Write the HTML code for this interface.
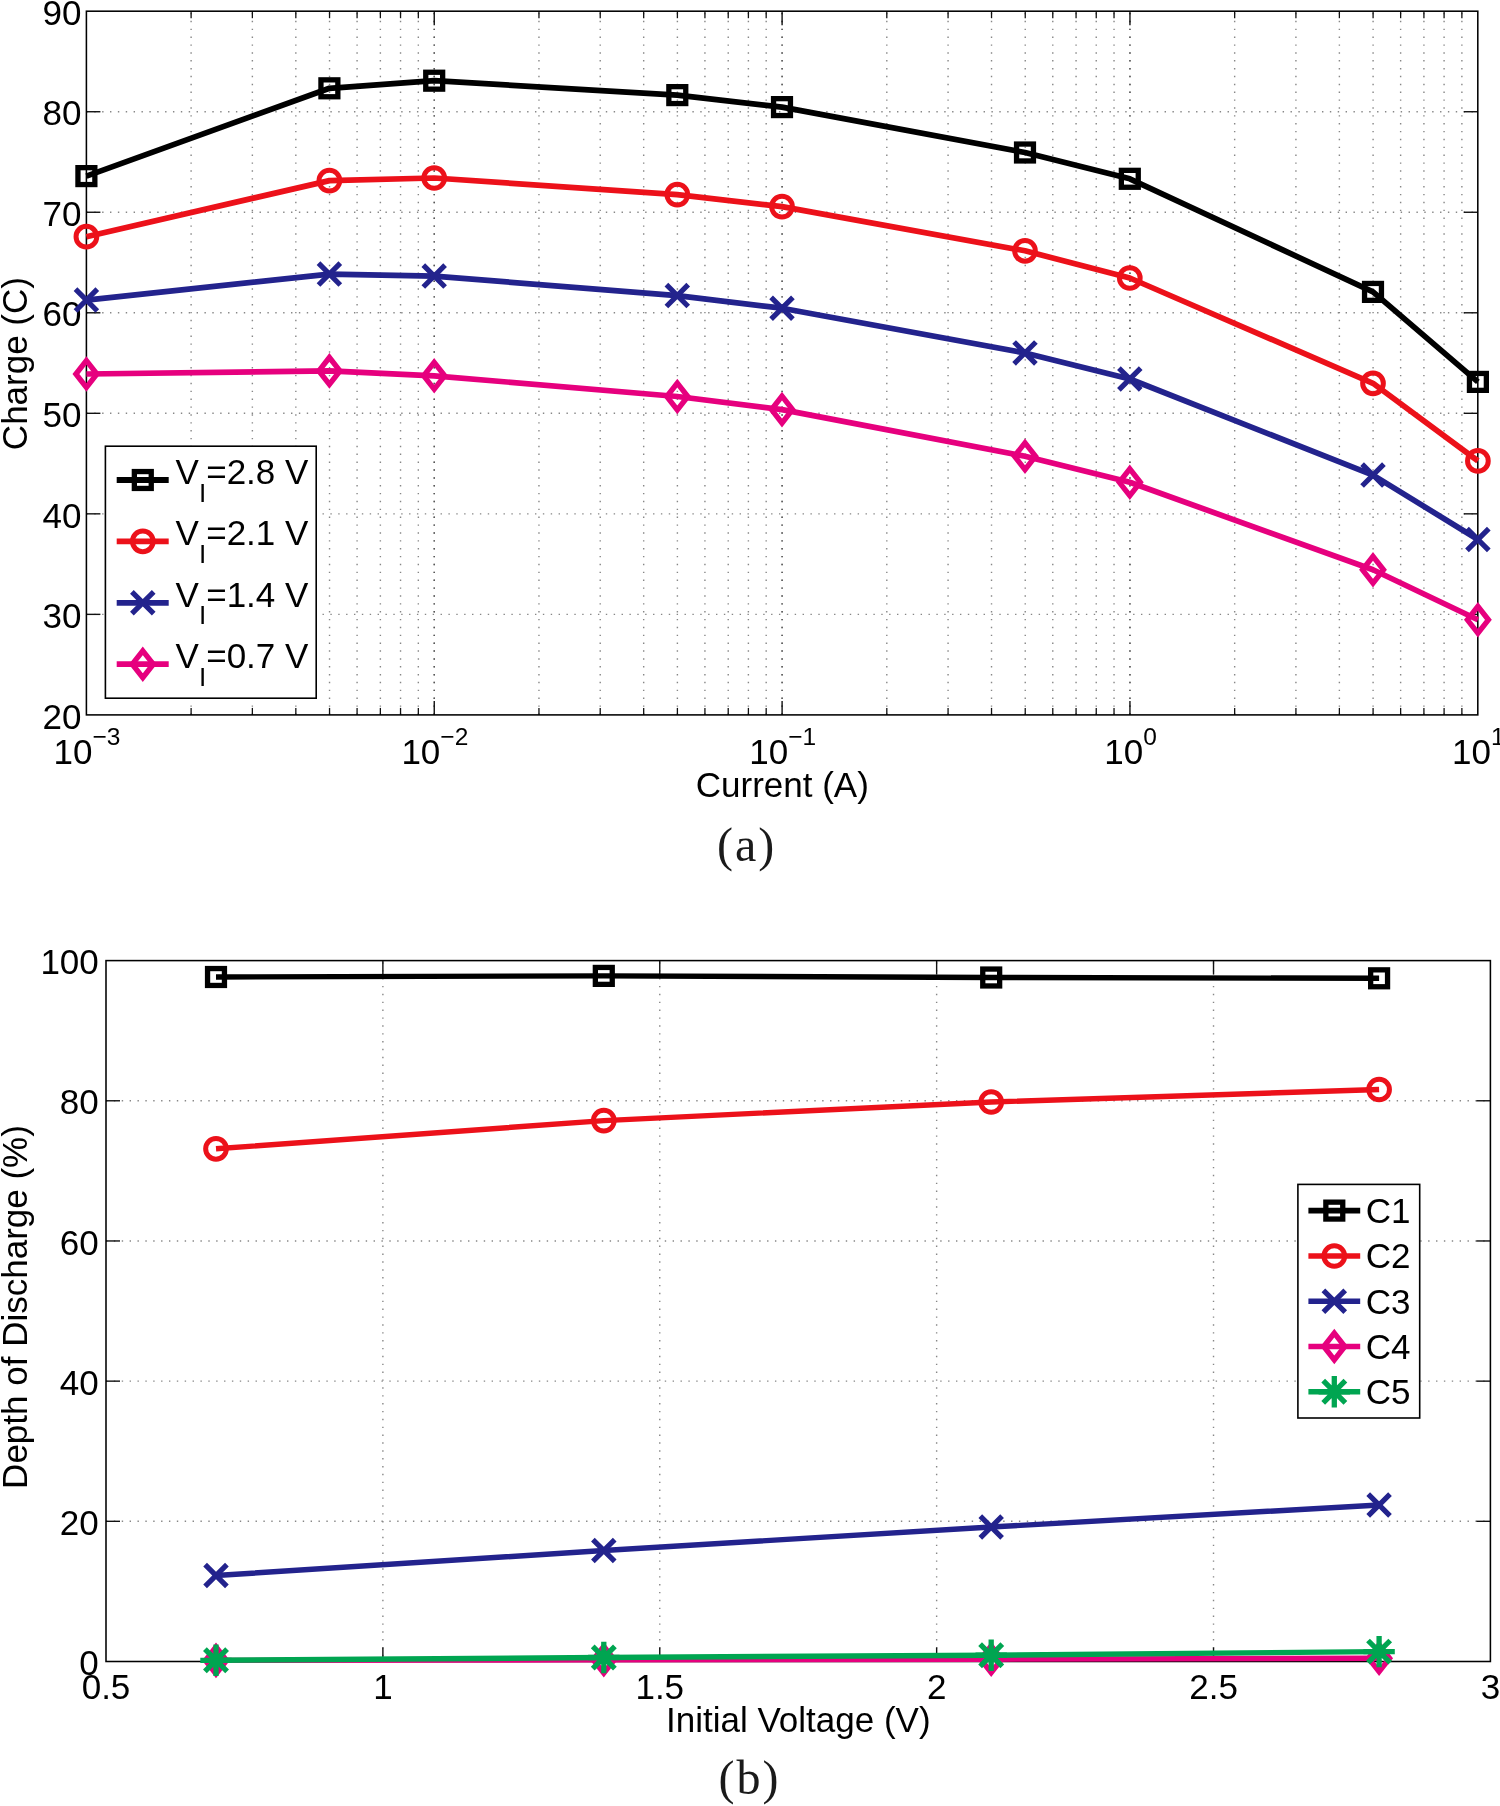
<!DOCTYPE html>
<html lang="en">
<head>
<meta charset="utf-8">
<title>Charge vs current and depth of discharge vs initial voltage</title>
<style>
html,body{margin:0;padding:0;background:#ffffff;}
body{width:1500px;height:1806px;overflow:hidden;font-family:"Liberation Sans",sans-serif;}
#fig{width:1500px;height:1806px;will-change:transform;filter:blur(0.55px);}
svg{display:block;}
</style>
</head>
<body>
<div id="fig">
<svg width="1500" height="1806" viewBox="0 0 1500 1806">
<line x1="191.11" y1="11.2" x2="191.11" y2="714.9" stroke="#878787" stroke-width="1.4" stroke-dasharray="1.4 6.47" stroke-dashoffset="-1.7"/>
<line x1="252.37" y1="11.2" x2="252.37" y2="714.9" stroke="#878787" stroke-width="1.4" stroke-dasharray="1.4 6.47" stroke-dashoffset="-1.7"/>
<line x1="295.83" y1="11.2" x2="295.83" y2="714.9" stroke="#878787" stroke-width="1.4" stroke-dasharray="1.4 6.47" stroke-dashoffset="-1.7"/>
<line x1="329.54" y1="11.2" x2="329.54" y2="714.9" stroke="#878787" stroke-width="1.4" stroke-dasharray="1.4 6.47" stroke-dashoffset="-1.7"/>
<line x1="357.08" y1="11.2" x2="357.08" y2="714.9" stroke="#878787" stroke-width="1.4" stroke-dasharray="1.4 6.47" stroke-dashoffset="-1.7"/>
<line x1="380.37" y1="11.2" x2="380.37" y2="714.9" stroke="#878787" stroke-width="1.4" stroke-dasharray="1.4 6.47" stroke-dashoffset="-1.7"/>
<line x1="400.54" y1="11.2" x2="400.54" y2="714.9" stroke="#878787" stroke-width="1.4" stroke-dasharray="1.4 6.47" stroke-dashoffset="-1.7"/>
<line x1="418.33" y1="11.2" x2="418.33" y2="714.9" stroke="#878787" stroke-width="1.4" stroke-dasharray="1.4 6.47" stroke-dashoffset="-1.7"/>
<line x1="538.96" y1="11.2" x2="538.96" y2="714.9" stroke="#878787" stroke-width="1.4" stroke-dasharray="1.4 6.47" stroke-dashoffset="-1.7"/>
<line x1="600.22" y1="11.2" x2="600.22" y2="714.9" stroke="#878787" stroke-width="1.4" stroke-dasharray="1.4 6.47" stroke-dashoffset="-1.7"/>
<line x1="643.68" y1="11.2" x2="643.68" y2="714.9" stroke="#878787" stroke-width="1.4" stroke-dasharray="1.4 6.47" stroke-dashoffset="-1.7"/>
<line x1="677.39" y1="11.2" x2="677.39" y2="714.9" stroke="#878787" stroke-width="1.4" stroke-dasharray="1.4 6.47" stroke-dashoffset="-1.7"/>
<line x1="704.93" y1="11.2" x2="704.93" y2="714.9" stroke="#878787" stroke-width="1.4" stroke-dasharray="1.4 6.47" stroke-dashoffset="-1.7"/>
<line x1="728.22" y1="11.2" x2="728.22" y2="714.9" stroke="#878787" stroke-width="1.4" stroke-dasharray="1.4 6.47" stroke-dashoffset="-1.7"/>
<line x1="748.39" y1="11.2" x2="748.39" y2="714.9" stroke="#878787" stroke-width="1.4" stroke-dasharray="1.4 6.47" stroke-dashoffset="-1.7"/>
<line x1="766.18" y1="11.2" x2="766.18" y2="714.9" stroke="#878787" stroke-width="1.4" stroke-dasharray="1.4 6.47" stroke-dashoffset="-1.7"/>
<line x1="886.81" y1="11.2" x2="886.81" y2="714.9" stroke="#878787" stroke-width="1.4" stroke-dasharray="1.4 6.47" stroke-dashoffset="-1.7"/>
<line x1="948.07" y1="11.2" x2="948.07" y2="714.9" stroke="#878787" stroke-width="1.4" stroke-dasharray="1.4 6.47" stroke-dashoffset="-1.7"/>
<line x1="991.53" y1="11.2" x2="991.53" y2="714.9" stroke="#878787" stroke-width="1.4" stroke-dasharray="1.4 6.47" stroke-dashoffset="-1.7"/>
<line x1="1025.24" y1="11.2" x2="1025.24" y2="714.9" stroke="#878787" stroke-width="1.4" stroke-dasharray="1.4 6.47" stroke-dashoffset="-1.7"/>
<line x1="1052.78" y1="11.2" x2="1052.78" y2="714.9" stroke="#878787" stroke-width="1.4" stroke-dasharray="1.4 6.47" stroke-dashoffset="-1.7"/>
<line x1="1076.07" y1="11.2" x2="1076.07" y2="714.9" stroke="#878787" stroke-width="1.4" stroke-dasharray="1.4 6.47" stroke-dashoffset="-1.7"/>
<line x1="1096.24" y1="11.2" x2="1096.24" y2="714.9" stroke="#878787" stroke-width="1.4" stroke-dasharray="1.4 6.47" stroke-dashoffset="-1.7"/>
<line x1="1114.03" y1="11.2" x2="1114.03" y2="714.9" stroke="#878787" stroke-width="1.4" stroke-dasharray="1.4 6.47" stroke-dashoffset="-1.7"/>
<line x1="1234.66" y1="11.2" x2="1234.66" y2="714.9" stroke="#878787" stroke-width="1.4" stroke-dasharray="1.4 6.47" stroke-dashoffset="-1.7"/>
<line x1="1295.92" y1="11.2" x2="1295.92" y2="714.9" stroke="#878787" stroke-width="1.4" stroke-dasharray="1.4 6.47" stroke-dashoffset="-1.7"/>
<line x1="1339.38" y1="11.2" x2="1339.38" y2="714.9" stroke="#878787" stroke-width="1.4" stroke-dasharray="1.4 6.47" stroke-dashoffset="-1.7"/>
<line x1="1373.09" y1="11.2" x2="1373.09" y2="714.9" stroke="#878787" stroke-width="1.4" stroke-dasharray="1.4 6.47" stroke-dashoffset="-1.7"/>
<line x1="1400.63" y1="11.2" x2="1400.63" y2="714.9" stroke="#878787" stroke-width="1.4" stroke-dasharray="1.4 6.47" stroke-dashoffset="-1.7"/>
<line x1="1423.92" y1="11.2" x2="1423.92" y2="714.9" stroke="#878787" stroke-width="1.4" stroke-dasharray="1.4 6.47" stroke-dashoffset="-1.7"/>
<line x1="1444.09" y1="11.2" x2="1444.09" y2="714.9" stroke="#878787" stroke-width="1.4" stroke-dasharray="1.4 6.47" stroke-dashoffset="-1.7"/>
<line x1="1461.88" y1="11.2" x2="1461.88" y2="714.9" stroke="#878787" stroke-width="1.4" stroke-dasharray="1.4 6.47" stroke-dashoffset="-1.7"/>
<line x1="434.25" y1="11.2" x2="434.25" y2="714.9" stroke="#878787" stroke-width="1.4" stroke-dasharray="1.4 6.47" stroke-dashoffset="-1.7"/>
<line x1="434.25" y1="11.2" x2="434.25" y2="714.9" stroke="#555" stroke-width="1.4" stroke-dasharray="1.4 6.47" stroke-dashoffset="-1.7"/>
<line x1="782.1" y1="11.2" x2="782.1" y2="714.9" stroke="#878787" stroke-width="1.4" stroke-dasharray="1.4 6.47" stroke-dashoffset="-1.7"/>
<line x1="782.1" y1="11.2" x2="782.1" y2="714.9" stroke="#555" stroke-width="1.4" stroke-dasharray="1.4 6.47" stroke-dashoffset="-1.7"/>
<line x1="1129.95" y1="11.2" x2="1129.95" y2="714.9" stroke="#878787" stroke-width="1.4" stroke-dasharray="1.4 6.47" stroke-dashoffset="-1.7"/>
<line x1="1129.95" y1="11.2" x2="1129.95" y2="714.9" stroke="#555" stroke-width="1.4" stroke-dasharray="1.4 6.47" stroke-dashoffset="-1.7"/>
<line x1="86.4" y1="614.37" x2="1477.8" y2="614.37" stroke="#878787" stroke-width="1.4" stroke-dasharray="1.4 6.47"/>
<line x1="86.4" y1="513.84" x2="1477.8" y2="513.84" stroke="#878787" stroke-width="1.4" stroke-dasharray="1.4 6.47"/>
<line x1="86.4" y1="413.31" x2="1477.8" y2="413.31" stroke="#878787" stroke-width="1.4" stroke-dasharray="1.4 6.47"/>
<line x1="86.4" y1="312.79" x2="1477.8" y2="312.79" stroke="#878787" stroke-width="1.4" stroke-dasharray="1.4 6.47"/>
<line x1="86.4" y1="212.26" x2="1477.8" y2="212.26" stroke="#878787" stroke-width="1.4" stroke-dasharray="1.4 6.47"/>
<line x1="86.4" y1="111.73" x2="1477.8" y2="111.73" stroke="#878787" stroke-width="1.4" stroke-dasharray="1.4 6.47"/>
<line x1="191.11" y1="714.9" x2="191.11" y2="707.9" stroke="#111111" stroke-width="1.3"/>
<line x1="191.11" y1="11.2" x2="191.11" y2="18.2" stroke="#111111" stroke-width="1.3"/>
<line x1="252.37" y1="714.9" x2="252.37" y2="707.9" stroke="#111111" stroke-width="1.3"/>
<line x1="252.37" y1="11.2" x2="252.37" y2="18.2" stroke="#111111" stroke-width="1.3"/>
<line x1="295.83" y1="714.9" x2="295.83" y2="707.9" stroke="#111111" stroke-width="1.3"/>
<line x1="295.83" y1="11.2" x2="295.83" y2="18.2" stroke="#111111" stroke-width="1.3"/>
<line x1="329.54" y1="714.9" x2="329.54" y2="707.9" stroke="#111111" stroke-width="1.3"/>
<line x1="329.54" y1="11.2" x2="329.54" y2="18.2" stroke="#111111" stroke-width="1.3"/>
<line x1="357.08" y1="714.9" x2="357.08" y2="707.9" stroke="#111111" stroke-width="1.3"/>
<line x1="357.08" y1="11.2" x2="357.08" y2="18.2" stroke="#111111" stroke-width="1.3"/>
<line x1="380.37" y1="714.9" x2="380.37" y2="707.9" stroke="#111111" stroke-width="1.3"/>
<line x1="380.37" y1="11.2" x2="380.37" y2="18.2" stroke="#111111" stroke-width="1.3"/>
<line x1="400.54" y1="714.9" x2="400.54" y2="707.9" stroke="#111111" stroke-width="1.3"/>
<line x1="400.54" y1="11.2" x2="400.54" y2="18.2" stroke="#111111" stroke-width="1.3"/>
<line x1="418.33" y1="714.9" x2="418.33" y2="707.9" stroke="#111111" stroke-width="1.3"/>
<line x1="418.33" y1="11.2" x2="418.33" y2="18.2" stroke="#111111" stroke-width="1.3"/>
<line x1="538.96" y1="714.9" x2="538.96" y2="707.9" stroke="#111111" stroke-width="1.3"/>
<line x1="538.96" y1="11.2" x2="538.96" y2="18.2" stroke="#111111" stroke-width="1.3"/>
<line x1="600.22" y1="714.9" x2="600.22" y2="707.9" stroke="#111111" stroke-width="1.3"/>
<line x1="600.22" y1="11.2" x2="600.22" y2="18.2" stroke="#111111" stroke-width="1.3"/>
<line x1="643.68" y1="714.9" x2="643.68" y2="707.9" stroke="#111111" stroke-width="1.3"/>
<line x1="643.68" y1="11.2" x2="643.68" y2="18.2" stroke="#111111" stroke-width="1.3"/>
<line x1="677.39" y1="714.9" x2="677.39" y2="707.9" stroke="#111111" stroke-width="1.3"/>
<line x1="677.39" y1="11.2" x2="677.39" y2="18.2" stroke="#111111" stroke-width="1.3"/>
<line x1="704.93" y1="714.9" x2="704.93" y2="707.9" stroke="#111111" stroke-width="1.3"/>
<line x1="704.93" y1="11.2" x2="704.93" y2="18.2" stroke="#111111" stroke-width="1.3"/>
<line x1="728.22" y1="714.9" x2="728.22" y2="707.9" stroke="#111111" stroke-width="1.3"/>
<line x1="728.22" y1="11.2" x2="728.22" y2="18.2" stroke="#111111" stroke-width="1.3"/>
<line x1="748.39" y1="714.9" x2="748.39" y2="707.9" stroke="#111111" stroke-width="1.3"/>
<line x1="748.39" y1="11.2" x2="748.39" y2="18.2" stroke="#111111" stroke-width="1.3"/>
<line x1="766.18" y1="714.9" x2="766.18" y2="707.9" stroke="#111111" stroke-width="1.3"/>
<line x1="766.18" y1="11.2" x2="766.18" y2="18.2" stroke="#111111" stroke-width="1.3"/>
<line x1="886.81" y1="714.9" x2="886.81" y2="707.9" stroke="#111111" stroke-width="1.3"/>
<line x1="886.81" y1="11.2" x2="886.81" y2="18.2" stroke="#111111" stroke-width="1.3"/>
<line x1="948.07" y1="714.9" x2="948.07" y2="707.9" stroke="#111111" stroke-width="1.3"/>
<line x1="948.07" y1="11.2" x2="948.07" y2="18.2" stroke="#111111" stroke-width="1.3"/>
<line x1="991.53" y1="714.9" x2="991.53" y2="707.9" stroke="#111111" stroke-width="1.3"/>
<line x1="991.53" y1="11.2" x2="991.53" y2="18.2" stroke="#111111" stroke-width="1.3"/>
<line x1="1025.24" y1="714.9" x2="1025.24" y2="707.9" stroke="#111111" stroke-width="1.3"/>
<line x1="1025.24" y1="11.2" x2="1025.24" y2="18.2" stroke="#111111" stroke-width="1.3"/>
<line x1="1052.78" y1="714.9" x2="1052.78" y2="707.9" stroke="#111111" stroke-width="1.3"/>
<line x1="1052.78" y1="11.2" x2="1052.78" y2="18.2" stroke="#111111" stroke-width="1.3"/>
<line x1="1076.07" y1="714.9" x2="1076.07" y2="707.9" stroke="#111111" stroke-width="1.3"/>
<line x1="1076.07" y1="11.2" x2="1076.07" y2="18.2" stroke="#111111" stroke-width="1.3"/>
<line x1="1096.24" y1="714.9" x2="1096.24" y2="707.9" stroke="#111111" stroke-width="1.3"/>
<line x1="1096.24" y1="11.2" x2="1096.24" y2="18.2" stroke="#111111" stroke-width="1.3"/>
<line x1="1114.03" y1="714.9" x2="1114.03" y2="707.9" stroke="#111111" stroke-width="1.3"/>
<line x1="1114.03" y1="11.2" x2="1114.03" y2="18.2" stroke="#111111" stroke-width="1.3"/>
<line x1="1234.66" y1="714.9" x2="1234.66" y2="707.9" stroke="#111111" stroke-width="1.3"/>
<line x1="1234.66" y1="11.2" x2="1234.66" y2="18.2" stroke="#111111" stroke-width="1.3"/>
<line x1="1295.92" y1="714.9" x2="1295.92" y2="707.9" stroke="#111111" stroke-width="1.3"/>
<line x1="1295.92" y1="11.2" x2="1295.92" y2="18.2" stroke="#111111" stroke-width="1.3"/>
<line x1="1339.38" y1="714.9" x2="1339.38" y2="707.9" stroke="#111111" stroke-width="1.3"/>
<line x1="1339.38" y1="11.2" x2="1339.38" y2="18.2" stroke="#111111" stroke-width="1.3"/>
<line x1="1373.09" y1="714.9" x2="1373.09" y2="707.9" stroke="#111111" stroke-width="1.3"/>
<line x1="1373.09" y1="11.2" x2="1373.09" y2="18.2" stroke="#111111" stroke-width="1.3"/>
<line x1="1400.63" y1="714.9" x2="1400.63" y2="707.9" stroke="#111111" stroke-width="1.3"/>
<line x1="1400.63" y1="11.2" x2="1400.63" y2="18.2" stroke="#111111" stroke-width="1.3"/>
<line x1="1423.92" y1="714.9" x2="1423.92" y2="707.9" stroke="#111111" stroke-width="1.3"/>
<line x1="1423.92" y1="11.2" x2="1423.92" y2="18.2" stroke="#111111" stroke-width="1.3"/>
<line x1="1444.09" y1="714.9" x2="1444.09" y2="707.9" stroke="#111111" stroke-width="1.3"/>
<line x1="1444.09" y1="11.2" x2="1444.09" y2="18.2" stroke="#111111" stroke-width="1.3"/>
<line x1="1461.88" y1="714.9" x2="1461.88" y2="707.9" stroke="#111111" stroke-width="1.3"/>
<line x1="1461.88" y1="11.2" x2="1461.88" y2="18.2" stroke="#111111" stroke-width="1.3"/>
<line x1="434.25" y1="714.9" x2="434.25" y2="700.9" stroke="#111111" stroke-width="1.4"/>
<line x1="434.25" y1="11.2" x2="434.25" y2="25.2" stroke="#111111" stroke-width="1.4"/>
<line x1="782.1" y1="714.9" x2="782.1" y2="700.9" stroke="#111111" stroke-width="1.4"/>
<line x1="782.1" y1="11.2" x2="782.1" y2="25.2" stroke="#111111" stroke-width="1.4"/>
<line x1="1129.95" y1="714.9" x2="1129.95" y2="700.9" stroke="#111111" stroke-width="1.4"/>
<line x1="1129.95" y1="11.2" x2="1129.95" y2="25.2" stroke="#111111" stroke-width="1.4"/>
<line x1="86.4" y1="614.37" x2="100.4" y2="614.37" stroke="#111111" stroke-width="1.4"/>
<line x1="1477.8" y1="614.37" x2="1463.8" y2="614.37" stroke="#111111" stroke-width="1.4"/>
<line x1="86.4" y1="513.84" x2="100.4" y2="513.84" stroke="#111111" stroke-width="1.4"/>
<line x1="1477.8" y1="513.84" x2="1463.8" y2="513.84" stroke="#111111" stroke-width="1.4"/>
<line x1="86.4" y1="413.31" x2="100.4" y2="413.31" stroke="#111111" stroke-width="1.4"/>
<line x1="1477.8" y1="413.31" x2="1463.8" y2="413.31" stroke="#111111" stroke-width="1.4"/>
<line x1="86.4" y1="312.79" x2="100.4" y2="312.79" stroke="#111111" stroke-width="1.4"/>
<line x1="1477.8" y1="312.79" x2="1463.8" y2="312.79" stroke="#111111" stroke-width="1.4"/>
<line x1="86.4" y1="212.26" x2="100.4" y2="212.26" stroke="#111111" stroke-width="1.4"/>
<line x1="1477.8" y1="212.26" x2="1463.8" y2="212.26" stroke="#111111" stroke-width="1.4"/>
<line x1="86.4" y1="111.73" x2="100.4" y2="111.73" stroke="#111111" stroke-width="1.4"/>
<line x1="1477.8" y1="111.73" x2="1463.8" y2="111.73" stroke="#111111" stroke-width="1.4"/>
<rect x="86.4" y="11.2" width="1391.4" height="703.7" fill="none" stroke="#000000" stroke-width="1.55"/>
<text x="81.5" y="728.6" font-size="35" text-anchor="end" font-family="Liberation Sans, sans-serif" fill="#000" >20</text>
<text x="81.5" y="628.07" font-size="35" text-anchor="end" font-family="Liberation Sans, sans-serif" fill="#000" >30</text>
<text x="81.5" y="527.54" font-size="35" text-anchor="end" font-family="Liberation Sans, sans-serif" fill="#000" >40</text>
<text x="81.5" y="427.01" font-size="35" text-anchor="end" font-family="Liberation Sans, sans-serif" fill="#000" >50</text>
<text x="81.5" y="326.49" font-size="35" text-anchor="end" font-family="Liberation Sans, sans-serif" fill="#000" >60</text>
<text x="81.5" y="225.96" font-size="35" text-anchor="end" font-family="Liberation Sans, sans-serif" fill="#000" >70</text>
<text x="81.5" y="125.43" font-size="35" text-anchor="end" font-family="Liberation Sans, sans-serif" fill="#000" >80</text>
<text x="81.5" y="24.9" font-size="35" text-anchor="end" font-family="Liberation Sans, sans-serif" fill="#000" >90</text>
<text x="87" y="763.8" font-size="35" text-anchor="middle" font-family="Liberation Sans, sans-serif" fill="#000">10<tspan font-size="24.5" dy="-18.8">−3</tspan></text>
<text x="434.85" y="763.8" font-size="35" text-anchor="middle" font-family="Liberation Sans, sans-serif" fill="#000">10<tspan font-size="24.5" dy="-18.8">−2</tspan></text>
<text x="782.7" y="763.8" font-size="35" text-anchor="middle" font-family="Liberation Sans, sans-serif" fill="#000">10<tspan font-size="24.5" dy="-18.8">−1</tspan></text>
<text x="1130.55" y="763.8" font-size="35" text-anchor="middle" font-family="Liberation Sans, sans-serif" fill="#000">10<tspan font-size="24.5" dy="-18.8">0</tspan></text>
<text x="1478.4" y="763.8" font-size="35" text-anchor="middle" font-family="Liberation Sans, sans-serif" fill="#000">10<tspan font-size="24.5" dy="-18.8">1</tspan></text>
<text x="782.3" y="797.3" font-size="35" text-anchor="middle" font-family="Liberation Sans, sans-serif" fill="#000" >Current (A)</text>
<text transform="translate(27 363.6) rotate(-90)" font-size="35" text-anchor="middle" font-family="Liberation Sans, sans-serif" fill="#000">Charge (C)</text>
<polyline points="86.4,176.1 329.4,88.3 434.2,80.7 677.3,95.1 782,107.1 1025,152.5 1129.8,178.8 1373,291.9 1477.9,381.9" fill="none" stroke="#000000" stroke-width="5.7" stroke-linejoin="round"/>
<rect x="77.95" y="167.65" width="16.9" height="16.9" fill="none" stroke="#000000" stroke-width="5.3"/>
<rect x="320.95" y="79.85" width="16.9" height="16.9" fill="none" stroke="#000000" stroke-width="5.3"/>
<rect x="425.75" y="72.25" width="16.9" height="16.9" fill="none" stroke="#000000" stroke-width="5.3"/>
<rect x="668.85" y="86.65" width="16.9" height="16.9" fill="none" stroke="#000000" stroke-width="5.3"/>
<rect x="773.55" y="98.65" width="16.9" height="16.9" fill="none" stroke="#000000" stroke-width="5.3"/>
<rect x="1016.55" y="144.05" width="16.9" height="16.9" fill="none" stroke="#000000" stroke-width="5.3"/>
<rect x="1121.35" y="170.35" width="16.9" height="16.9" fill="none" stroke="#000000" stroke-width="5.3"/>
<rect x="1364.55" y="283.45" width="16.9" height="16.9" fill="none" stroke="#000000" stroke-width="5.3"/>
<rect x="1469.45" y="373.45" width="16.9" height="16.9" fill="none" stroke="#000000" stroke-width="5.3"/>
<polyline points="86.4,236.7 329.4,180.6 434.2,178 677.3,194.6 782,206.6 1025,250.8 1129.8,278 1373,383.3 1477.9,460.9" fill="none" stroke="#EC111A" stroke-width="5.7" stroke-linejoin="round"/>
<circle cx="86.4" cy="236.7" r="10.35" fill="none" stroke="#EC111A" stroke-width="5.0"/>
<circle cx="329.4" cy="180.6" r="10.35" fill="none" stroke="#EC111A" stroke-width="5.0"/>
<circle cx="434.2" cy="178" r="10.35" fill="none" stroke="#EC111A" stroke-width="5.0"/>
<circle cx="677.3" cy="194.6" r="10.35" fill="none" stroke="#EC111A" stroke-width="5.0"/>
<circle cx="782" cy="206.6" r="10.35" fill="none" stroke="#EC111A" stroke-width="5.0"/>
<circle cx="1025" cy="250.8" r="10.35" fill="none" stroke="#EC111A" stroke-width="5.0"/>
<circle cx="1129.8" cy="278" r="10.35" fill="none" stroke="#EC111A" stroke-width="5.0"/>
<circle cx="1373" cy="383.3" r="10.35" fill="none" stroke="#EC111A" stroke-width="5.0"/>
<circle cx="1477.9" cy="460.9" r="10.35" fill="none" stroke="#EC111A" stroke-width="5.0"/>
<polyline points="86.4,300.1 329.4,274.1 434.2,276.1 677.3,295.6 782,308.2 1025,352.9 1129.8,379 1373,475.1 1477.9,539.5" fill="none" stroke="#23238D" stroke-width="5.7" stroke-linejoin="round"/>
<path d="M75.5 289.2L97.3 311M75.5 311L97.3 289.2" fill="none" stroke="#23238D" stroke-width="5.2"/>
<path d="M318.5 263.2L340.3 285M318.5 285L340.3 263.2" fill="none" stroke="#23238D" stroke-width="5.2"/>
<path d="M423.3 265.2L445.1 287M423.3 287L445.1 265.2" fill="none" stroke="#23238D" stroke-width="5.2"/>
<path d="M666.4 284.7L688.2 306.5M666.4 306.5L688.2 284.7" fill="none" stroke="#23238D" stroke-width="5.2"/>
<path d="M771.1 297.3L792.9 319.1M771.1 319.1L792.9 297.3" fill="none" stroke="#23238D" stroke-width="5.2"/>
<path d="M1014.1 342L1035.9 363.8M1014.1 363.8L1035.9 342" fill="none" stroke="#23238D" stroke-width="5.2"/>
<path d="M1118.9 368.1L1140.7 389.9M1118.9 389.9L1140.7 368.1" fill="none" stroke="#23238D" stroke-width="5.2"/>
<path d="M1362.1 464.2L1383.9 486M1362.1 486L1383.9 464.2" fill="none" stroke="#23238D" stroke-width="5.2"/>
<path d="M1467 528.6L1488.8 550.4M1467 550.4L1488.8 528.6" fill="none" stroke="#23238D" stroke-width="5.2"/>
<polyline points="86.4,374 329.4,370.9 434.2,375.8 677.3,396.5 782,409.6 1025,456.2 1129.8,482.3 1373,569.8 1477.9,619.8" fill="none" stroke="#E6007E" stroke-width="5.7" stroke-linejoin="round"/>
<path d="M86.4 360.6L96.9 374L86.4 387.4L75.9 374Z" fill="none" stroke="#E6007E" stroke-width="5.4" stroke-linejoin="miter" stroke-miterlimit="10"/>
<path d="M329.4 357.5L339.9 370.9L329.4 384.3L318.9 370.9Z" fill="none" stroke="#E6007E" stroke-width="5.4" stroke-linejoin="miter" stroke-miterlimit="10"/>
<path d="M434.2 362.4L444.7 375.8L434.2 389.2L423.7 375.8Z" fill="none" stroke="#E6007E" stroke-width="5.4" stroke-linejoin="miter" stroke-miterlimit="10"/>
<path d="M677.3 383.1L687.8 396.5L677.3 409.9L666.8 396.5Z" fill="none" stroke="#E6007E" stroke-width="5.4" stroke-linejoin="miter" stroke-miterlimit="10"/>
<path d="M782 396.2L792.5 409.6L782 423L771.5 409.6Z" fill="none" stroke="#E6007E" stroke-width="5.4" stroke-linejoin="miter" stroke-miterlimit="10"/>
<path d="M1025 442.8L1035.5 456.2L1025 469.6L1014.5 456.2Z" fill="none" stroke="#E6007E" stroke-width="5.4" stroke-linejoin="miter" stroke-miterlimit="10"/>
<path d="M1129.8 468.9L1140.3 482.3L1129.8 495.7L1119.3 482.3Z" fill="none" stroke="#E6007E" stroke-width="5.4" stroke-linejoin="miter" stroke-miterlimit="10"/>
<path d="M1373 556.4L1383.5 569.8L1373 583.2L1362.5 569.8Z" fill="none" stroke="#E6007E" stroke-width="5.4" stroke-linejoin="miter" stroke-miterlimit="10"/>
<path d="M1477.9 606.4L1488.4 619.8L1477.9 633.2L1467.4 619.8Z" fill="none" stroke="#E6007E" stroke-width="5.4" stroke-linejoin="miter" stroke-miterlimit="10"/>
<rect x="105.4" y="446.2" width="210.8" height="252" fill="#ffffff" stroke="#000000" stroke-width="1.6"/>
<line x1="116.7" y1="480" x2="168.7" y2="480" stroke="#000000" stroke-width="5.8"/>
<rect x="134.35" y="471.55" width="16.9" height="16.9" fill="none" stroke="#000000" stroke-width="5.3"/>
<text x="175.6" y="484.1" font-size="35" font-family="Liberation Sans, sans-serif" fill="#000">V<tspan font-size="26" dy="17.5">I</tspan><tspan dy="-17.5">=2.8 V</tspan></text>
<line x1="116.7" y1="541.3" x2="168.7" y2="541.3" stroke="#EC111A" stroke-width="5.8"/>
<circle cx="142.8" cy="541.3" r="10.35" fill="none" stroke="#EC111A" stroke-width="5.0"/>
<text x="175.6" y="545.4" font-size="35" font-family="Liberation Sans, sans-serif" fill="#000">V<tspan font-size="26" dy="17.5">I</tspan><tspan dy="-17.5">=2.1 V</tspan></text>
<line x1="116.7" y1="602.8" x2="168.7" y2="602.8" stroke="#23238D" stroke-width="5.8"/>
<path d="M131.9 591.9L153.7 613.7M131.9 613.7L153.7 591.9" fill="none" stroke="#23238D" stroke-width="5.2"/>
<text x="175.6" y="606.9" font-size="35" font-family="Liberation Sans, sans-serif" fill="#000">V<tspan font-size="26" dy="17.5">I</tspan><tspan dy="-17.5">=1.4 V</tspan></text>
<line x1="116.7" y1="664.2" x2="168.7" y2="664.2" stroke="#E6007E" stroke-width="5.8"/>
<path d="M142.8 650.8L153.3 664.2L142.8 677.6L132.3 664.2Z" fill="none" stroke="#E6007E" stroke-width="5.4" stroke-linejoin="miter" stroke-miterlimit="10"/>
<text x="175.6" y="668.3" font-size="35" font-family="Liberation Sans, sans-serif" fill="#000">V<tspan font-size="26" dy="17.5">I</tspan><tspan dy="-17.5">=0.7 V</tspan></text>
<text x="746.7" y="861" font-size="48" text-anchor="middle" font-family="Liberation Serif, serif" fill="#1a1a1a" letter-spacing="2">(a)</text>
<line x1="382.88" y1="960.6" x2="382.88" y2="1661.5" stroke="#878787" stroke-width="1.4" stroke-dasharray="1.4 6.47" stroke-dashoffset="-1.7"/>
<line x1="659.76" y1="960.6" x2="659.76" y2="1661.5" stroke="#878787" stroke-width="1.4" stroke-dasharray="1.4 6.47" stroke-dashoffset="-1.7"/>
<line x1="936.64" y1="960.6" x2="936.64" y2="1661.5" stroke="#878787" stroke-width="1.4" stroke-dasharray="1.4 6.47" stroke-dashoffset="-1.7"/>
<line x1="1213.52" y1="960.6" x2="1213.52" y2="1661.5" stroke="#878787" stroke-width="1.4" stroke-dasharray="1.4 6.47" stroke-dashoffset="-1.7"/>
<line x1="106" y1="1521.32" x2="1490.4" y2="1521.32" stroke="#878787" stroke-width="1.4" stroke-dasharray="1.4 6.47"/>
<line x1="106" y1="1381.14" x2="1490.4" y2="1381.14" stroke="#878787" stroke-width="1.4" stroke-dasharray="1.4 6.47"/>
<line x1="106" y1="1240.96" x2="1490.4" y2="1240.96" stroke="#878787" stroke-width="1.4" stroke-dasharray="1.4 6.47"/>
<line x1="106" y1="1100.78" x2="1490.4" y2="1100.78" stroke="#878787" stroke-width="1.4" stroke-dasharray="1.4 6.47"/>
<line x1="382.88" y1="1661.5" x2="382.88" y2="1647.5" stroke="#111111" stroke-width="1.4"/>
<line x1="382.88" y1="960.6" x2="382.88" y2="974.6" stroke="#111111" stroke-width="1.4"/>
<line x1="659.76" y1="1661.5" x2="659.76" y2="1647.5" stroke="#111111" stroke-width="1.4"/>
<line x1="659.76" y1="960.6" x2="659.76" y2="974.6" stroke="#111111" stroke-width="1.4"/>
<line x1="936.64" y1="1661.5" x2="936.64" y2="1647.5" stroke="#111111" stroke-width="1.4"/>
<line x1="936.64" y1="960.6" x2="936.64" y2="974.6" stroke="#111111" stroke-width="1.4"/>
<line x1="1213.52" y1="1661.5" x2="1213.52" y2="1647.5" stroke="#111111" stroke-width="1.4"/>
<line x1="1213.52" y1="960.6" x2="1213.52" y2="974.6" stroke="#111111" stroke-width="1.4"/>
<line x1="106" y1="1521.32" x2="120" y2="1521.32" stroke="#111111" stroke-width="1.4"/>
<line x1="1490.4" y1="1521.32" x2="1476.4" y2="1521.32" stroke="#111111" stroke-width="1.4"/>
<line x1="106" y1="1381.14" x2="120" y2="1381.14" stroke="#111111" stroke-width="1.4"/>
<line x1="1490.4" y1="1381.14" x2="1476.4" y2="1381.14" stroke="#111111" stroke-width="1.4"/>
<line x1="106" y1="1240.96" x2="120" y2="1240.96" stroke="#111111" stroke-width="1.4"/>
<line x1="1490.4" y1="1240.96" x2="1476.4" y2="1240.96" stroke="#111111" stroke-width="1.4"/>
<line x1="106" y1="1100.78" x2="120" y2="1100.78" stroke="#111111" stroke-width="1.4"/>
<line x1="1490.4" y1="1100.78" x2="1476.4" y2="1100.78" stroke="#111111" stroke-width="1.4"/>
<rect x="106" y="960.6" width="1384.4" height="700.9" fill="none" stroke="#000000" stroke-width="1.55"/>
<text x="98.8" y="1675.2" font-size="35" text-anchor="end" font-family="Liberation Sans, sans-serif" fill="#000" >0</text>
<text x="98.8" y="1535.02" font-size="35" text-anchor="end" font-family="Liberation Sans, sans-serif" fill="#000" >20</text>
<text x="98.8" y="1394.84" font-size="35" text-anchor="end" font-family="Liberation Sans, sans-serif" fill="#000" >40</text>
<text x="98.8" y="1254.66" font-size="35" text-anchor="end" font-family="Liberation Sans, sans-serif" fill="#000" >60</text>
<text x="98.8" y="1114.48" font-size="35" text-anchor="end" font-family="Liberation Sans, sans-serif" fill="#000" >80</text>
<text x="98.8" y="974.3" font-size="35" text-anchor="end" font-family="Liberation Sans, sans-serif" fill="#000" >100</text>
<text x="106" y="1698.7" font-size="35" text-anchor="middle" font-family="Liberation Sans, sans-serif" fill="#000" >0.5</text>
<text x="382.88" y="1698.7" font-size="35" text-anchor="middle" font-family="Liberation Sans, sans-serif" fill="#000" >1</text>
<text x="659.76" y="1698.7" font-size="35" text-anchor="middle" font-family="Liberation Sans, sans-serif" fill="#000" >1.5</text>
<text x="936.64" y="1698.7" font-size="35" text-anchor="middle" font-family="Liberation Sans, sans-serif" fill="#000" >2</text>
<text x="1213.52" y="1698.7" font-size="35" text-anchor="middle" font-family="Liberation Sans, sans-serif" fill="#000" >2.5</text>
<text x="1490.4" y="1698.7" font-size="35" text-anchor="middle" font-family="Liberation Sans, sans-serif" fill="#000" >3</text>
<text x="798.3" y="1732" font-size="35" text-anchor="middle" font-family="Liberation Sans, sans-serif" fill="#000" >Initial Voltage (V)</text>
<text transform="translate(26.6 1307) rotate(-90)" font-size="35" text-anchor="middle" font-family="Liberation Sans, sans-serif" fill="#000">Depth of Discharge (%)</text>
<polyline points="216,977 603.8,975.9 991.2,977.5 1379.1,978.3" fill="none" stroke="#000000" stroke-width="5.4" stroke-linejoin="round"/>
<rect x="207.55" y="968.55" width="16.9" height="16.9" fill="none" stroke="#000000" stroke-width="5.3"/>
<rect x="595.35" y="967.45" width="16.9" height="16.9" fill="none" stroke="#000000" stroke-width="5.3"/>
<rect x="982.75" y="969.05" width="16.9" height="16.9" fill="none" stroke="#000000" stroke-width="5.3"/>
<rect x="1370.65" y="969.85" width="16.9" height="16.9" fill="none" stroke="#000000" stroke-width="5.3"/>
<polyline points="216,1148.8 603.8,1120.6 991.2,1102 1379.1,1089.5" fill="none" stroke="#EC111A" stroke-width="5.4" stroke-linejoin="round"/>
<circle cx="216" cy="1148.8" r="10.35" fill="none" stroke="#EC111A" stroke-width="5.0"/>
<circle cx="603.8" cy="1120.6" r="10.35" fill="none" stroke="#EC111A" stroke-width="5.0"/>
<circle cx="991.2" cy="1102" r="10.35" fill="none" stroke="#EC111A" stroke-width="5.0"/>
<circle cx="1379.1" cy="1089.5" r="10.35" fill="none" stroke="#EC111A" stroke-width="5.0"/>
<polyline points="216,1575.5 603.8,1550.5 991.2,1527 1379.1,1505" fill="none" stroke="#23238D" stroke-width="5.4" stroke-linejoin="round"/>
<path d="M205.1 1564.6L226.9 1586.4M205.1 1586.4L226.9 1564.6" fill="none" stroke="#23238D" stroke-width="5.2"/>
<path d="M592.9 1539.6L614.7 1561.4M592.9 1561.4L614.7 1539.6" fill="none" stroke="#23238D" stroke-width="5.2"/>
<path d="M980.3 1516.1L1002.1 1537.9M980.3 1537.9L1002.1 1516.1" fill="none" stroke="#23238D" stroke-width="5.2"/>
<path d="M1368.2 1494.1L1390 1515.9M1368.2 1515.9L1390 1494.1" fill="none" stroke="#23238D" stroke-width="5.2"/>
<polyline points="216,1660.4 603.8,1659.8 991.2,1659.2 1379.1,1658.3" fill="none" stroke="#E6007E" stroke-width="5.4" stroke-linejoin="round"/>
<path d="M216 1647L226.5 1660.4L216 1673.8L205.5 1660.4Z" fill="none" stroke="#E6007E" stroke-width="5.4" stroke-linejoin="miter" stroke-miterlimit="10"/>
<path d="M603.8 1646.4L614.3 1659.8L603.8 1673.2L593.3 1659.8Z" fill="none" stroke="#E6007E" stroke-width="5.4" stroke-linejoin="miter" stroke-miterlimit="10"/>
<path d="M991.2 1645.8L1001.7 1659.2L991.2 1672.6L980.7 1659.2Z" fill="none" stroke="#E6007E" stroke-width="5.4" stroke-linejoin="miter" stroke-miterlimit="10"/>
<path d="M1379.1 1644.9L1389.6 1658.3L1379.1 1671.7L1368.6 1658.3Z" fill="none" stroke="#E6007E" stroke-width="5.4" stroke-linejoin="miter" stroke-miterlimit="10"/>
<polyline points="216,1660.3 603.8,1657.5 991.2,1655.2 1379.1,1651.6" fill="none" stroke="#00A551" stroke-width="5.4" stroke-linejoin="round"/>
<path d="M200.3 1660.3L231.7 1660.3M216 1644.6L216 1676M204.9 1649.2L227.1 1671.4M204.9 1671.4L227.1 1649.2" fill="none" stroke="#00A551" stroke-width="5.3"/>
<path d="M588.1 1657.5L619.5 1657.5M603.8 1641.8L603.8 1673.2M592.7 1646.4L614.9 1668.6M592.7 1668.6L614.9 1646.4" fill="none" stroke="#00A551" stroke-width="5.3"/>
<path d="M975.5 1655.2L1006.9 1655.2M991.2 1639.5L991.2 1670.9M980.1 1644.1L1002.3 1666.3M980.1 1666.3L1002.3 1644.1" fill="none" stroke="#00A551" stroke-width="5.3"/>
<path d="M1363.4 1651.6L1394.8 1651.6M1379.1 1635.9L1379.1 1667.3M1368 1640.5L1390.2 1662.7M1368 1662.7L1390.2 1640.5" fill="none" stroke="#00A551" stroke-width="5.3"/>
<rect x="1297.9" y="1184.4" width="121.8" height="233.6" fill="#ffffff" stroke="#000000" stroke-width="1.6"/>
<line x1="1308.4" y1="1210.6" x2="1360.2" y2="1210.6" stroke="#000000" stroke-width="5.6"/>
<rect x="1325.85" y="1202.15" width="16.9" height="16.9" fill="none" stroke="#000000" stroke-width="5.3"/>
<text x="1365.7" y="1222.9" font-size="35" text-anchor="start" font-family="Liberation Sans, sans-serif" fill="#000" >C1</text>
<line x1="1308.4" y1="1256" x2="1360.2" y2="1256" stroke="#EC111A" stroke-width="5.6"/>
<circle cx="1334.3" cy="1256" r="10.35" fill="none" stroke="#EC111A" stroke-width="5.0"/>
<text x="1365.7" y="1268.3" font-size="35" text-anchor="start" font-family="Liberation Sans, sans-serif" fill="#000" >C2</text>
<line x1="1308.4" y1="1301.3" x2="1360.2" y2="1301.3" stroke="#23238D" stroke-width="5.6"/>
<path d="M1323.4 1290.4L1345.2 1312.2M1323.4 1312.2L1345.2 1290.4" fill="none" stroke="#23238D" stroke-width="5.2"/>
<text x="1365.7" y="1313.6" font-size="35" text-anchor="start" font-family="Liberation Sans, sans-serif" fill="#000" >C3</text>
<line x1="1308.4" y1="1346.5" x2="1360.2" y2="1346.5" stroke="#E6007E" stroke-width="5.6"/>
<path d="M1334.3 1333.1L1344.8 1346.5L1334.3 1359.9L1323.8 1346.5Z" fill="none" stroke="#E6007E" stroke-width="5.4" stroke-linejoin="miter" stroke-miterlimit="10"/>
<text x="1365.7" y="1358.8" font-size="35" text-anchor="start" font-family="Liberation Sans, sans-serif" fill="#000" >C4</text>
<line x1="1308.4" y1="1391.8" x2="1360.2" y2="1391.8" stroke="#00A551" stroke-width="5.6"/>
<path d="M1318.6 1391.8L1350 1391.8M1334.3 1376.1L1334.3 1407.5M1323.2 1380.7L1345.4 1402.9M1323.2 1402.9L1345.4 1380.7" fill="none" stroke="#00A551" stroke-width="5.3"/>
<text x="1365.7" y="1404.1" font-size="35" text-anchor="start" font-family="Liberation Sans, sans-serif" fill="#000" >C5</text>
<text x="749.6" y="1793.8" font-size="48" text-anchor="middle" font-family="Liberation Serif, serif" fill="#1a1a1a" letter-spacing="2">(b)</text>
</svg>
</div>
</body>
</html>
